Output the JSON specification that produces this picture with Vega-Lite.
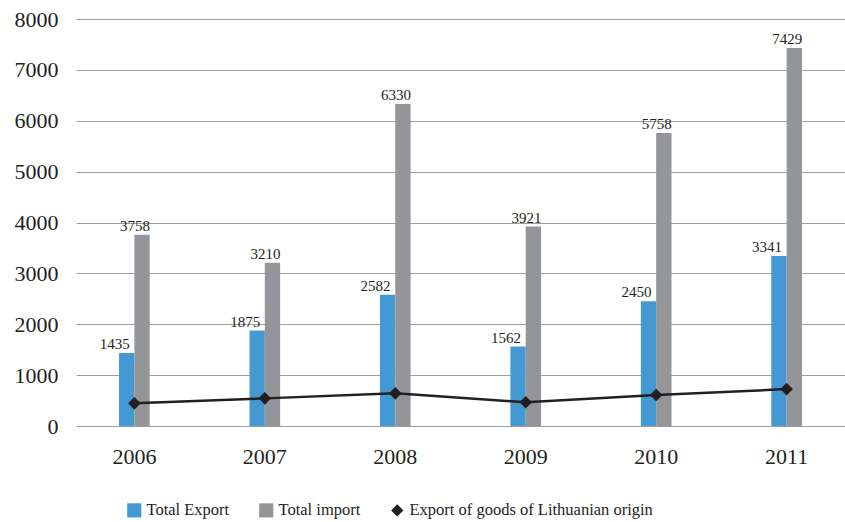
{
  "$schema": "https://vega.github.io/schema/vega-lite/v6.json",
  "width": 769,
  "height": 407,
  "autosize": {"type": "none"},
  "padding": {"left": 76, "top": 19, "right": 0, "bottom": 96},
  "background": "white",
  "config": {
    "view": {"stroke": null},
    "font": "Liberation Serif",
    "axis": {"labelFont": "Liberation Serif"},
    "legend": {"labelFont": "Liberation Serif"},
    "text": {"font": "Liberation Serif"}
  },
  "data": {
    "values": [
      {"year": "2006", "series": "Total Export", "value": 1435},
      {"year": "2007", "series": "Total Export", "value": 1875},
      {"year": "2008", "series": "Total Export", "value": 2582},
      {"year": "2009", "series": "Total Export", "value": 1562},
      {"year": "2010", "series": "Total Export", "value": 2450},
      {"year": "2011", "series": "Total Export", "value": 3341},
      {"year": "2006", "series": "Total import", "value": 3758},
      {"year": "2007", "series": "Total import", "value": 3210},
      {"year": "2008", "series": "Total import", "value": 6330},
      {"year": "2009", "series": "Total import", "value": 3921},
      {"year": "2010", "series": "Total import", "value": 5758},
      {"year": "2011", "series": "Total import", "value": 7429},
      {"year": "2006", "series": "Export of goods of Lithuanian origin", "value": 445},
      {"year": "2007", "series": "Export of goods of Lithuanian origin", "value": 543},
      {"year": "2008", "series": "Export of goods of Lithuanian origin", "value": 642},
      {"year": "2009", "series": "Export of goods of Lithuanian origin", "value": 466},
      {"year": "2010", "series": "Export of goods of Lithuanian origin", "value": 609},
      {"year": "2011", "series": "Export of goods of Lithuanian origin", "value": 725}
    ]
  },
  "encoding": {
    "x": {
      "field": "year",
      "type": "nominal",
      "scale": {"paddingInner": 0.765, "paddingOuter": 0.33},
      "axis": {
        "title": null,
        "labelAngle": 0,
        "labelFont": "Liberation Serif",
        "labelFontSize": 22,
        "labelColor": "#231f20",
        "labelPadding": 20,
        "ticks": false,
        "domain": false
      }
    },
    "y": {
      "field": "value",
      "type": "quantitative",
      "scale": {"domain": [0, 8000], "nice": false},
      "axis": {
        "title": null,
        "values": [0, 1000, 2000, 3000, 4000, 5000, 6000, 7000, 8000],
        "labelOverlap": false,
        "format": "d",
        "labelFont": "Liberation Serif",
        "labelFontSize": 22,
        "labelColor": "#231f20",
        "labelPadding": 18,
        "ticks": false,
        "domain": false,
        "gridColor": "#9d9d9d",
        "gridWidth": 1.2
      }
    }
  },
  "layer": [
    {
      "transform": [{"filter": "datum.series !== 'Export of goods of Lithuanian origin'"}],
      "mark": {"type": "bar"},
      "encoding": {
        "xOffset": {"field": "series", "type": "nominal", "scale": {"domain": ["Total Export", "Total import"]}},
        "color": {
          "field": "series",
          "type": "nominal",
          "scale": {
            "domain": ["Total Export", "Total import", "Export of goods of Lithuanian origin"],
            "range": ["#4599d2", "#939598", "#231f20"]
          },
          "legend": {
            "title": null,
            "orient": "none",
            "direction": "horizontal",
            "legendX": 50,
            "legendY": 483,
            "labelFont": "Liberation Serif",
            "labelFontSize": 16.5,
            "labelColor": "#231f20",
            "labelLimit": 400,
            "symbolSize": 200,
            "symbolOpacity": 1,
            "columnPadding": 28,
            "labelOffset": 4,
            "encode": {
              "symbols": {
                "update": {
                  "shape": {"signal": "datum.value === 'Export of goods of Lithuanian origin' ? 'diamond' : 'square'"},
                  "size": {"signal": "datum.value === 'Export of goods of Lithuanian origin' ? 150 : 200"},
                  "strokeWidth": {"value": 0}
                }
              }
            }
          }
        }
      }
    },
    {
      "transform": [{"filter": "datum.series === 'Total Export'"}],
      "mark": {"type": "text", "baseline": "alphabetic", "dy": -4, "dx": -12, "fontSize": 15, "font": "Liberation Serif", "color": "#231f20"},
      "encoding": {
        "xOffset": {"field": "series", "type": "nominal", "scale": {"domain": ["Total Export", "Total import"]}},
        "text": {"field": "value", "type": "quantitative", "format": "d"}
      }
    },
    {
      "transform": [{"filter": "datum.series === 'Total import'"}],
      "mark": {"type": "text", "baseline": "alphabetic", "dy": -4, "dx": -7, "fontSize": 15, "font": "Liberation Serif", "color": "#231f20"},
      "encoding": {
        "xOffset": {"field": "series", "type": "nominal", "scale": {"domain": ["Total Export", "Total import"]}},
        "text": {"field": "value", "type": "quantitative", "format": "d"}
      }
    },
    {
      "transform": [{"filter": "datum.series === 'Export of goods of Lithuanian origin'"}],
      "mark": {"type": "line", "color": "#231f20", "strokeWidth": 2.5},
      "encoding": {}
    },
    {
      "transform": [{"filter": "datum.series === 'Export of goods of Lithuanian origin'"}],
      "mark": {"type": "point", "filled": true, "opacity": 1, "size": 160, "shape": "diamond"},
      "encoding": {
        "color": {"field": "series", "type": "nominal"}
      }
    }
  ]
}
